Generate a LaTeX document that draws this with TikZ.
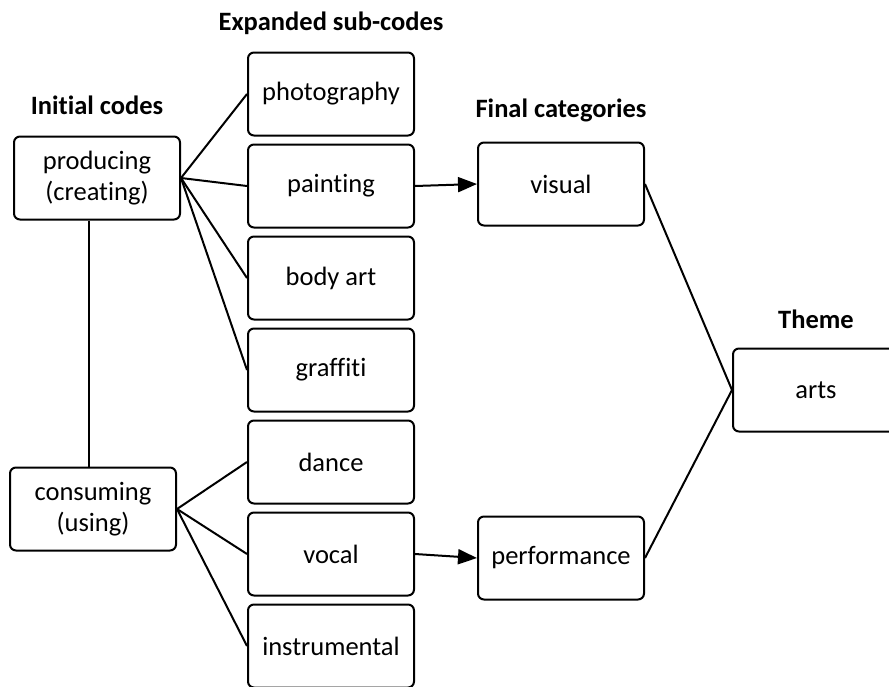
\documentclass[tikz,border=0pt]{standalone}
\usepackage{fontspec}
\setmainfont[Ligatures=NoCommon]{Carlito}
\usetikzlibrary{positioning,arrows.meta}

\begin{document}
\begin{tikzpicture}[x=1pt, y=-1pt,
						box/.style={rectangle, rounded corners=6pt, draw=black, line width=2pt, minimum width=166pt, minimum height=83pt, align=center, font=\fontsize{26.5}{31}\selectfont},
						heading/.style={rectangle, inner sep=0pt, font=\bfseries\fontsize{26.5}{31}\selectfont},
						link/.style={line width=2pt}
					]
					\useasboundingbox (0,0) rectangle (889,686);
					\node[box] (prod) at (97,178) {producing\\(creating)};
					\node[box] (cons) at (93,509) {consuming\\(using)};
					\node[heading] (initial) [above=21pt of prod] {Initial codes};
					\node[box] (photo) at (331,94) {photography};
					\node[box] (paint) [below=7pt of photo] {painting};
					\node[box] (body) [below=7pt of paint] {body art};
					\node[box] (graff) [below=7pt of body] {graffiti};
					\node[box] (dance) [below=7pt of graff] {dance};
					\node[box] (vocal) [below=7pt of dance] {vocal};
					\node[box] (instr) [below=7pt of vocal] {instrumental};
					\node[heading] (expanded) [above=17pt of photo] {Expanded sub-codes};
					\node[box] (visual) at (561,184) {visual};
					\node[box] (perf) at (561,558) {performance};
					\node[heading] (final) [above=19pt of visual] {Final categories};
					\node[box] (arts) at (816,390) {arts};
					\node[heading] (theme) [above=19pt of arts] {Theme};
					\draw[link] ([xshift=-8pt]prod.south) -- ([xshift=-8pt]prod.south |- cons.north);
					\foreach \sub in {photo, paint, body, graff}
						\draw[link] (prod.east) -- (\sub.west);
					\foreach \sub in {dance, vocal, instr}
						\draw[link] (cons.east) -- (\sub.west);
					\begin{scope}[link, -{Triangle[length=19pt, width=15pt]}]
					\draw (paint.east) -- (visual.west);
					\draw (vocal.east) -- (perf.west);
					\end{scope}
					\draw[link] (visual.east) -- (arts.west);
					\draw[link] (perf.east) -- (arts.west);
					\end{tikzpicture}
\end{document}
